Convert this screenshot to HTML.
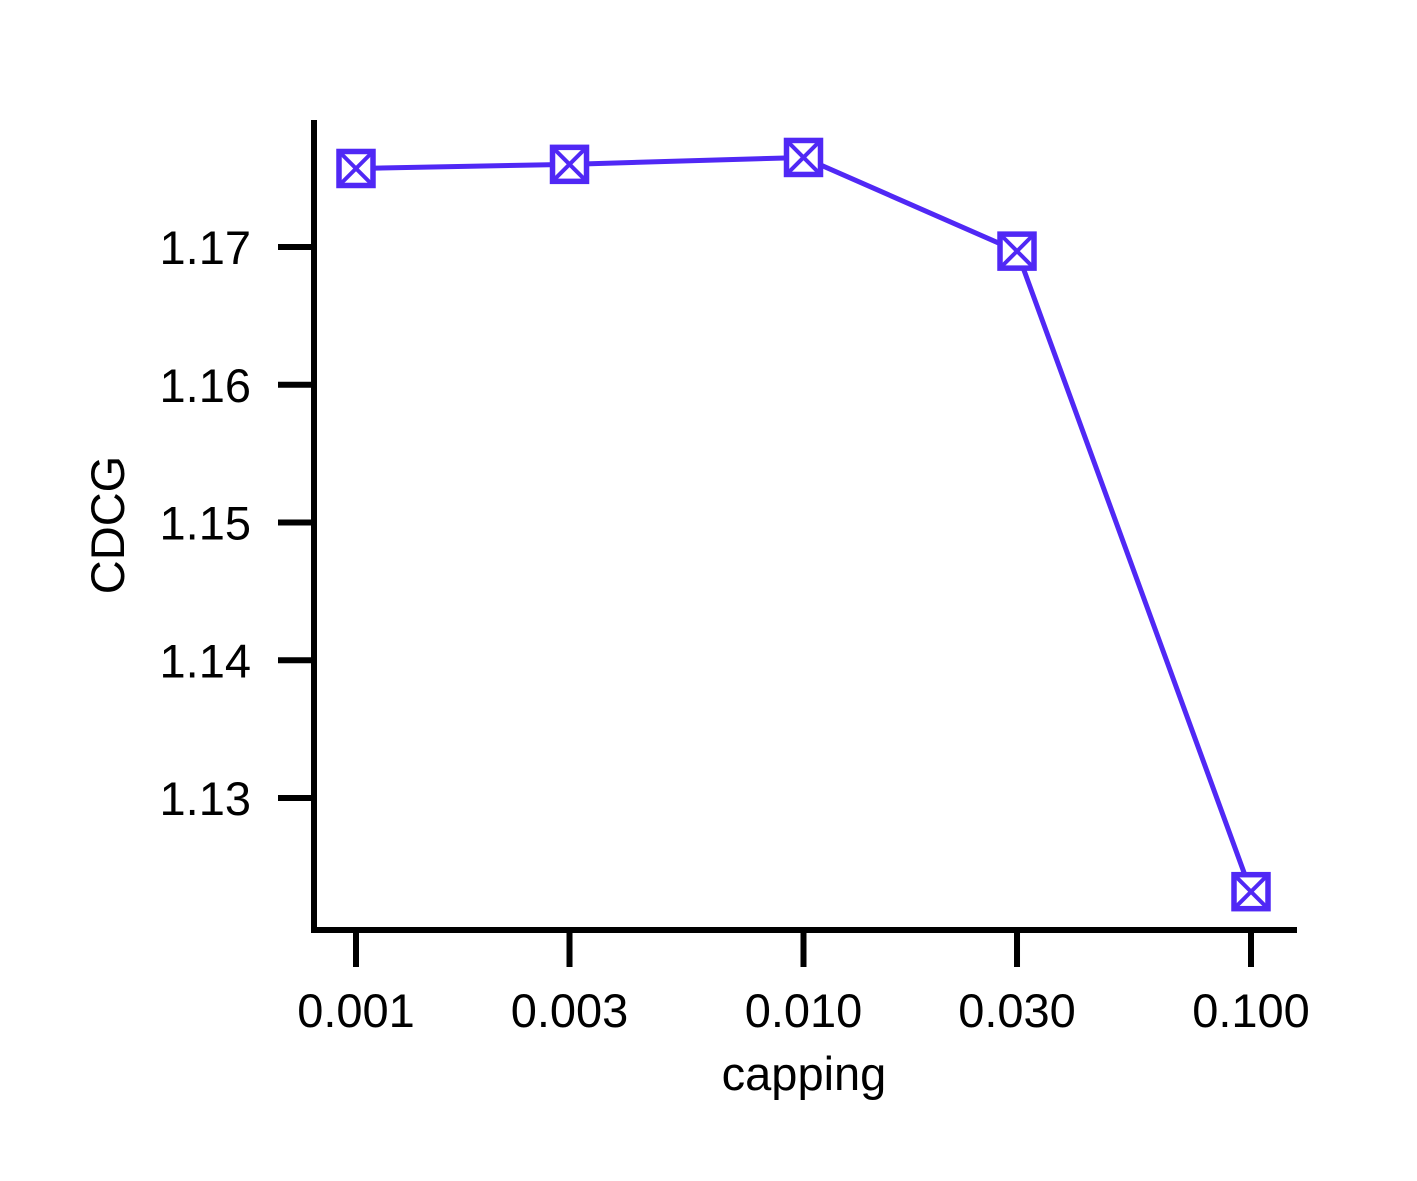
<!DOCTYPE html>
<html><head><meta charset="utf-8"><style>
html,body{margin:0;padding:0;background:#fff}
svg{display:block}
text{font-family:"Liberation Sans",Arial,sans-serif;fill:#000}
</style></head><body>
<svg width="1417" height="1181" viewBox="0 0 1417 1181">
<g id="axes"></g>
<g id="series"></g>
<text x="804" y="1090" font-size="47" text-anchor="middle">capping</text>
<text transform="translate(124,525) rotate(-90)" font-size="47" text-anchor="middle">CDCG</text>
</svg>
<script>
const categories = [0.001, 0.003, 0.010, 0.030, 0.100];
const xTickLabels = ["0.001", "0.003", "0.010", "0.030", "0.100"];
const cdcgValues = [1.1757, 1.1760, 1.1765, 1.1697, 1.1232];
const yTicks = [1.13, 1.14, 1.15, 1.16, 1.17];
const yTickLabels = ["1.13", "1.14", "1.15", "1.16", "1.17"];

const NS = "http://www.w3.org/2000/svg";
function xs(v){ return 356 + (Math.log10(v) + 3) * 447.5; }
function ys(v){ return 247 + (1.17 - v) * 13775; }
function mk(tag, attrs, parent){ const e=document.createElementNS(NS,tag); for(const k in attrs) e.setAttribute(k,attrs[k]); parent.appendChild(e); return e; }

const axes = document.getElementById('axes');
let l = mk('line',{x1:314,y1:120,x2:314,y2:933,stroke:'#000','stroke-width':6},axes);


l = mk('line',{x1:311,y1:930,x2:1297,y2:930,stroke:'#000','stroke-width':6},axes);



yTicks.forEach((t,i)=>{
  const y = ys(t);
  const tk = mk('line',{x1:278,y1:y,x2:314,y2:y,stroke:'#000','stroke-width':6},axes);
  
  
  const tx = mk('text',{x:251,y:y+17,'font-size':47,'text-anchor':'end'},axes);
  tx.textContent = yTickLabels[i];
  
  
});
categories.forEach((c,i)=>{
  const x = xs(c);
  const tk = mk('line',{x1:x,y1:930,x2:x,y2:967,stroke:'#000','stroke-width':6},axes);
  
  
  const tx = mk('text',{x:x,y:1027,'font-size':47,'text-anchor':'middle'},axes);
  tx.textContent = xTickLabels[i];
  
  
});

const series = document.getElementById('series');
const pts = categories.map((c,i)=>xs(c)+','+ys(cdcgValues[i])).join(' ');
const pl = mk('polyline',{points:pts,fill:'none',stroke:'#5028f5','stroke-width':5},series);


categories.forEach((c,i)=>{
  const x = xs(c), y = ys(cdcgValues[i]), h = 17;
  const g = mk('g',{stroke:'#5028f5','stroke-width':5.5,fill:'none'},series);
  
  
  mk('rect',{x:x-h,y:y-h,width:2*h,height:2*h,fill:'#fff'},g);
  mk('line',{x1:x-h,y1:y-h,x2:x+h,y2:y+h,'stroke-width':4},g);
  mk('line',{x1:x-h,y1:y+h,x2:x+h,y2:y-h,'stroke-width':4},g);
});
</script>
</body></html>
